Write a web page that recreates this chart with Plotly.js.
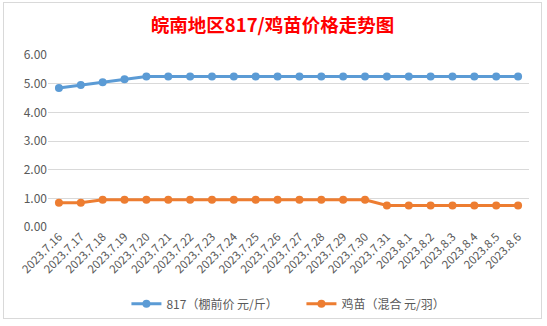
<!DOCTYPE html>
<html><head><meta charset="utf-8">
<script src="https://cdn.plot.ly/plotly-3.0.1.min.js"></script>
<style>
html,body{margin:0;padding:0;background:#fff;}
#wrap{position:absolute;left:3px;top:2px;width:537px;height:315px;border:1px solid #d9d9d9;background:#fff;}
#chart{width:537px;height:315px;}
</style></head><body>
<div id="wrap"><div id="chart"></div></div>
<script>
const dates = ["2023.7.16","2023.7.17","2023.7.18","2023.7.19","2023.7.20","2023.7.21","2023.7.22","2023.7.23","2023.7.24","2023.7.25","2023.7.26","2023.7.27","2023.7.28","2023.7.29","2023.7.30","2023.7.31","2023.8.1","2023.8.2","2023.8.3","2023.8.4","2023.8.5","2023.8.6"];
const price817 = [4.85,4.95,5.05,5.15,5.25,5.25,5.25,5.25,5.25,5.25,5.25,5.25,5.25,5.25,5.25,5.25,5.25,5.25,5.25,5.25,5.25,5.25];
const chickPrice = [0.85,0.85,0.95,0.95,0.95,0.95,0.95,0.95,0.95,0.95,0.95,0.95,0.95,0.95,0.95,0.75,0.75,0.75,0.75,0.75,0.75,0.75];
const name817 = "817（棚前价 元/斤）";
const nameChick = "鸡苗（混合 元/羽）";
const titleText = "皖南地区817/鸡苗价格走势图";

const traces = [
 {x:dates,y:price817,name:name817,type:'scatter',mode:'lines+markers',
  line:{color:'#5b9bd5',width:3},marker:{color:'#5b9bd5',size:8}},
 {x:dates,y:chickPrice,name:nameChick,type:'scatter',mode:'lines+markers',
  line:{color:'#ed7d31',width:3},marker:{color:'#ed7d31',size:8}}
];
const layout = {
 width:537,height:315,
 margin:{l:44,r:12,t:52,b:91},
 paper_bgcolor:'#fff',plot_bgcolor:'#fff',
 font:{family:'"Noto Sans CJK SC", "Noto Sans", sans-serif',color:'#595959',size:12},
 title:{text:titleText,x:0.5,xanchor:'center',y:0.93,yanchor:'middle',
   font:{family:'"Noto Sans CJK SC", sans-serif',size:18.5,color:'#ff0000',weight:'bold'}},
 xaxis:{type:'category',range:[-0.5,dates.length-0.5],tickangle:-45,showgrid:false,zeroline:false,showline:false,ticks:'',
   automargin:false,tickfont:{size:11.5,color:'#595959'}},
 yaxis:{range:[0,6],dtick:1,tickformat:'.2f',showgrid:true,gridcolor:'#d9d9d9',gridwidth:1,
   automargin:false,zeroline:false,showline:false,ticks:'',tickfont:{size:12,color:'#595959'}},
 legend:{orientation:'h',xref:'container',yref:'container',x:0.228,xanchor:'left',y:0.045,yanchor:'middle',
   font:{size:12,color:'#595959'},itemwidth:30,entrywidth:130},
 showlegend:true
};
Plotly.newPlot('chart',traces,layout,{displayModeBar:false,staticPlot:true});
</script>
</body></html>
